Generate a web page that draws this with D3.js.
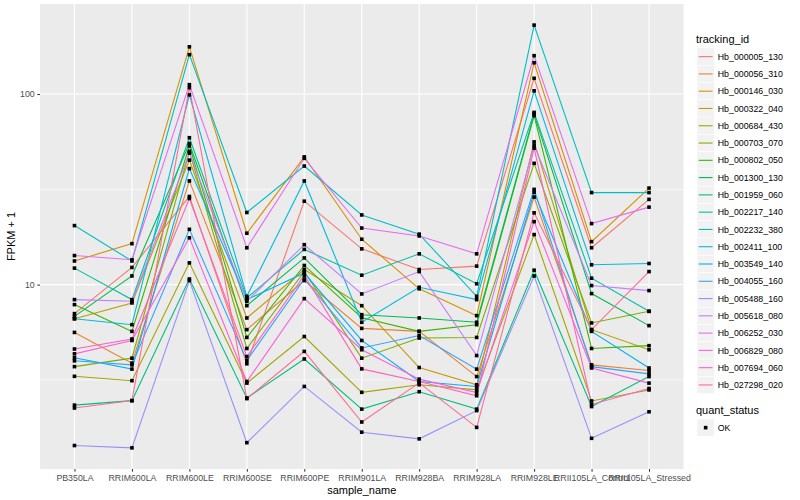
<!DOCTYPE html>
<html>
<head>
<meta charset="utf-8">
<script src="https://cdn.jsdelivr.net/npm/d3@7"></script>
<style>
  body { margin: 0; background: #fff; }
  text { font-family: "Liberation Sans", Arial, sans-serif; }
</style>
</head>
<body>
<div id="chart"></div>
<script>
// samples on the x axis
var samples = ["PB350LA", "RRIM600LA", "RRIM600LE", "RRIM600SE", "RRIM600PE", "RRIM901LA",
  "RRIM928BA", "RRIM928LA", "RRIM928LE", "RRII105LA_Control", "RRII105LA_Stressed"];

// FPKM + 1 per gene, one value per sample
var hb_000005_130 = [7.04, 12.3, 29, 3.84, 27.4, 15.4, 12.0, 12.5, 121, 15.6, 28.0];
var hb_000056_310 = [5.61, 3.87, 35, 5.80, 10.5, 5.89, 5.68, 3.29, 28.8, 3.79, 3.54];
var hb_000146_030 = [13.3, 16.4, 177, 18.6, 46.8, 17.3, 9.5, 6.87, 146, 16.8, 32.1];
var hb_000322_040 = [6.62, 8.01, 45, 6.68, 12.0, 7.75, 3.67, 2.98, 56.1, 5.80, 4.55];
var hb_000684_430 = [3.30, 3.13, 13, 3.04, 5.34, 2.72, 2.98, 2.80, 18.3, 2.45, 2.80];
var hb_000703_070 = [3.71, 4.11, 50, 4.62, 11.7, 4.11, 5.24, 5.28, 43.3, 6.29, 7.24];
var hb_000802_050 = [7.85, 5.68, 53.5, 5.28, 12.6, 6.7, 5.68, 6.16, 77, 4.62, 4.78];
var hb_001300_130 = [6.81, 11.1, 55, 7.75, 13.8, 6.95, 6.68, 6.34, 78.5, 8.97, 6.09];
var hb_001959_060 = [2.33, 2.46, 10.7, 2.54, 4.07, 2.22, 2.74, 2.22, 11.9, 2.29, 3.29];
var hb_002217_140 = [12.2, 8.34, 59, 8.51, 15.3, 11.2, 14.5, 10.1, 80.1, 10.8, 7.24];
var hb_002232_380 = [20.4, 13.3, 161, 23.9, 41.9, 23.2, 18.4, 8.68, 230, 30.4, 30.4];
var hb_002411_100 = [6.62, 6.16, 99, 8.68, 35.0, 6.34, 9.68, 8.34, 104, 12.7, 12.9];
var hb_003549_140 = [4.13, 3.6, 40.6, 8.34, 11.5, 5.09, 3.10, 2.92, 30.5, 5.68, 3.65];
var hb_004055_160 = [3.98, 3.79, 19.5, 4.0, 10.7, 4.65, 5.4, 3.60, 31.6, 3.71, 3.40];
var hb_005488_160 = [1.43, 1.39, 10.5, 1.48, 2.92, 1.68, 1.55, 2.18, 11.1, 1.56, 2.15];
var hb_005618_080 = [8.34, 8.17, 49, 8.17, 16.2, 8.93, 11.7, 4.24, 53.9, 9.88, 9.30];
var hb_006252_030 = [14.2, 13.5, 112, 15.6, 46.0, 19.8, 18.0, 14.5, 159, 20.9, 25.5];
var hb_006829_080 = [4.33, 5.09, 17.6, 3.10, 8.44, 4.55, 3.19, 2.71, 21.4, 3.65, 3.04];
var hb_007694_060 = [4.59, 5.18, 28.3, 4.19, 11.2, 3.61, 3.10, 2.61, 52.0, 2.35, 2.85];
var hb_027298_020 = [2.25, 2.46, 108, 2.52, 4.46, 1.90, 3.05, 1.78, 23.8, 5.80, 11.7];

var trackingIds = ["Hb_000005_130", "Hb_000056_310", "Hb_000146_030", "Hb_000322_040", "Hb_000684_430",
  "Hb_000703_070", "Hb_000802_050", "Hb_001300_130", "Hb_001959_060", "Hb_002217_140",
  "Hb_002232_380", "Hb_002411_100", "Hb_003549_140", "Hb_004055_160", "Hb_005488_160",
  "Hb_005618_080", "Hb_006252_030", "Hb_006829_080", "Hb_007694_060", "Hb_027298_020"];
var seriesValues = [hb_000005_130, hb_000056_310, hb_000146_030, hb_000322_040, hb_000684_430,
  hb_000703_070, hb_000802_050, hb_001300_130, hb_001959_060, hb_002217_140,
  hb_002232_380, hb_002411_100, hb_003549_140, hb_004055_160, hb_005488_160,
  hb_005618_080, hb_006252_030, hb_006829_080, hb_007694_060, hb_027298_020];
var yTicks = [10, 100];

// ggplot hue palette for 20 levels
var palette = ["#F8766D", "#EA8331", "#D89000", "#C09B00", "#A3A500", "#7CAE00", "#39B600",
  "#00BB4E", "#00BF7D", "#00C1A3", "#00BFC4", "#00BAE0", "#00B0F6", "#35A2FF", "#9590FF",
  "#C77CFF", "#E76BF3", "#FA62DB", "#FF62BC", "#FF6C91"];

var svgWidth = 800, svgHeight = 500;
var panel = { left: 40, right: 683.5, top: 4, bottom: 469 };

var series = trackingIds.map(function(id, i) {
  return { id: id, values: seriesValues[i].map(function(v, j) { return { sample: samples[j], v: v }; }) };
});

var svg = d3.select("#chart").append("svg")
  .attr("width", svgWidth)
  .attr("height", svgHeight);

var x = d3.scalePoint()
  .domain(samples)
  .range([panel.left, panel.right])
  .padding(0.6);

// log scale, 5% expansion in log space like ggplot
var allVals = d3.merge(seriesValues);
var lo = Math.log10(d3.min(allVals)), hi = Math.log10(d3.max(allVals));
var pad = (hi - lo) * 0.05;
var y = d3.scaleLog()
  .domain([Math.pow(10, lo - pad), Math.pow(10, hi + pad)])
  .range([panel.bottom, panel.top]);

// panel background
svg.append("rect")
  .attr("x", panel.left).attr("y", panel.top)
  .attr("width", panel.right - panel.left)
  .attr("height", panel.bottom - panel.top)
  .attr("fill", "#EBEBEB");

var grid = svg.append("g");
// minor y grid between decades
[0.5, 1.5, 2.5].forEach(function(e) {
  var v = Math.pow(10, e);
  if (v < y.domain()[0] || v > y.domain()[1]) return;
  grid.append("line")
    .attr("x1", panel.left).attr("x2", panel.right)
    .attr("y1", y(v)).attr("y2", y(v))
    .attr("stroke", "#fff").attr("stroke-width", 0.55);
});
yTicks.forEach(function(v) {
  grid.append("line")
    .attr("x1", panel.left).attr("x2", panel.right)
    .attr("y1", y(v)).attr("y2", y(v))
    .attr("stroke", "#fff").attr("stroke-width", 1.1);
});
samples.forEach(function(s) {
  grid.append("line")
    .attr("x1", x(s)).attr("x2", x(s))
    .attr("y1", panel.top).attr("y2", panel.bottom)
    .attr("stroke", "#fff").attr("stroke-width", 1.1);
});

// lines
var line = d3.line()
  .x(function(d) { return x(d.sample); })
  .y(function(d) { return y(d.v); });

svg.append("g").selectAll("path")
  .data(series)
  .enter()
  .append("path")
  .attr("d", function(d) { return line(d.values); })
  .attr("fill", "none")
  .attr("stroke", function(d, i) { return palette[i]; })
  .attr("stroke-width", 1.1);

// points
var pts = svg.append("g");
series.forEach(function(s) {
  pts.selectAll(null)
    .data(s.values)
    .enter()
    .append("rect")
    .attr("x", function(d) { return x(d.sample) - 1.8; })
    .attr("y", function(d) { return y(d.v) - 1.8; })
    .attr("width", 3.6).attr("height", 3.6)
    .attr("fill", "#000");
});

// axes
var xAxis = d3.axisBottom(x).tickSize(2.75).tickPadding(3);
var gx = svg.append("g")
  .attr("transform", "translate(0," + panel.bottom + ")")
  .call(xAxis);
gx.select(".domain").remove();
gx.selectAll("line").attr("stroke", "#333");
gx.selectAll("text").attr("fill", "#4D4D4D").attr("font-size", 8.8)
  .style("font-family", "Liberation Sans, Arial, sans-serif");

var yAxis = d3.axisLeft(y).tickValues(yTicks).tickFormat(d3.format("d")).tickSize(2.75).tickPadding(2.5);
var gy = svg.append("g")
  .attr("transform", "translate(" + panel.left + ",0)")
  .call(yAxis);
gy.select(".domain").remove();
gy.selectAll("line").attr("stroke", "#333");
gy.selectAll("text").attr("fill", "#4D4D4D").attr("font-size", 8.8)
  .style("font-family", "Liberation Sans, Arial, sans-serif");

// axis titles
svg.append("text")
  .attr("x", (panel.left + panel.right) / 2).attr("y", 494)
  .attr("text-anchor", "middle").attr("font-size", 11).attr("fill", "#000")
  .text("sample_name");
svg.append("text")
  .attr("transform", "translate(15," + ((panel.top + panel.bottom) / 2) + ") rotate(-90)")
  .attr("text-anchor", "middle").attr("font-size", 11).attr("fill", "#000")
  .text("FPKM + 1");

// legend: tracking_id
var keySize = 17.28;
var legX = 697, legY = 48;
var leg = svg.append("g");
leg.append("text").attr("x", legX - 1).attr("y", legY - 5)
  .attr("font-size", 11).attr("fill", "#000").text("tracking_id");
trackingIds.forEach(function(id, i) {
  var ky = legY + i * keySize;
  leg.append("rect").attr("x", legX).attr("y", ky)
    .attr("width", keySize).attr("height", keySize)
    .attr("fill", "#F2F2F2").attr("stroke", "#fff").attr("stroke-width", 0.5);
  leg.append("line")
    .attr("x1", legX + 1.7).attr("x2", legX + keySize - 1.7)
    .attr("y1", ky + keySize / 2).attr("y2", ky + keySize / 2)
    .attr("stroke", palette[i]).attr("stroke-width", 1.1);
  leg.append("text").attr("x", legX + keySize + 3.5).attr("y", ky + keySize / 2 + 3.1)
    .attr("font-size", 8.8).attr("fill", "#000").text(id);
});

// legend: quant_status
var qY = 419;
leg.append("text").attr("x", legX - 1).attr("y", qY - 5)
  .attr("font-size", 11).attr("fill", "#000").text("quant_status");
leg.append("rect").attr("x", legX).attr("y", qY)
  .attr("width", keySize).attr("height", keySize)
  .attr("fill", "#F2F2F2").attr("stroke", "#fff").attr("stroke-width", 0.5);
leg.append("rect").attr("x", legX + keySize / 2 - 1.8).attr("y", qY + keySize / 2 - 1.8)
  .attr("width", 3.6).attr("height", 3.6).attr("fill", "#000");
leg.append("text").attr("x", legX + keySize + 3.5).attr("y", qY + keySize / 2 + 3.1)
  .attr("font-size", 8.8).attr("fill", "#000").text("OK");
</script>
</body>
</html>
